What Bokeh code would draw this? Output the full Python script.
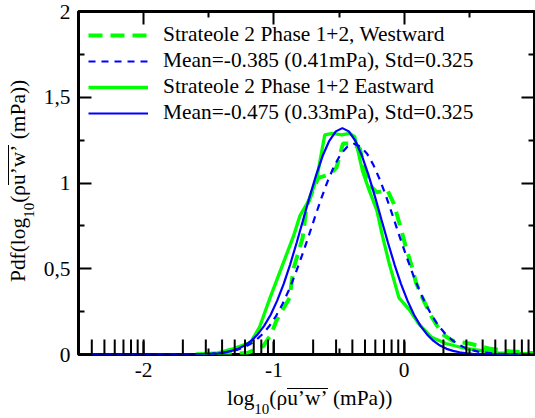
from bokeh.plotting import figure
from bokeh.models import (Legend, LegendItem, LinearAxis, FixedTicker, Range1d,
                          ColumnDataSource, Div)
from bokeh.layouts import row, column
from bokeh.embed import file_html
from bokeh.resources import INLINE
import numpy as np

# ---- data ----
west_x = [-1.6, -1.3, -1.2, -1.08, -1.02, -0.98, -0.88, -0.85, -0.78, -0.75, -0.71, -0.66,
          -0.57, -0.52, -0.47, -0.40, -0.34, -0.28, -0.21, -0.13, -0.08, -0.02, 0.015,
          0.06, 0.09, 0.14, 0.21, 0.29, 0.37, 0.5, 0.65, 0.78, 1.0]
west_y = [0.0, 0.003, 0.01, 0.05, 0.12, 0.20, 0.33, 0.50, 0.68, 0.86, 0.94, 1.03,
          1.05, 1.09, 1.23, 1.23, 1.20, 1.00, 0.945, 0.96, 0.88, 0.72, 0.62,
          0.51, 0.42, 0.33, 0.22, 0.12, 0.08, 0.064, 0.035, 0.02, 0.008]

east_x = [-1.6, -1.43, -1.31, -1.18, -1.11, -1.03, -0.93, -0.85, -0.80, -0.73, -0.67,
          -0.61, -0.55, -0.48, -0.42, -0.38, -0.32, -0.27, -0.21, -0.17, -0.115, -0.04,
          0.04, 0.11, 0.21, 0.32, 0.47, 0.72, 1.0]
east_y = [0.0, 0.01, 0.035, 0.07, 0.16, 0.33, 0.53, 0.69, 0.81, 0.90, 1.03,
          1.28, 1.29, 1.28, 1.29, 1.27, 1.07, 0.96, 0.84, 0.70, 0.53, 0.33,
          0.26, 0.18, 0.10, 0.064, 0.035, 0.01, 0.003]

fitw_x = [-2.5, -1.585, -1.485, -1.385, -1.335, -1.285, -1.235, -1.185, -1.135, -1.085,
          -1.035, -0.985, -0.935, -0.885, -0.835, -0.785, -0.735, -0.685, -0.635, -0.585,
          -0.535, -0.485, -0.435, -0.385,
          -0.335, -0.285, -0.235, -0.185, -0.135, -0.085, -0.035, 0.015, 0.065, 0.115,
          0.165, 0.215, 0.265, 0.315, 0.365, 0.415, 0.465, 0.515, 0.565, 0.615, 0.715,
          0.815, 1.0]
fitw_y = [0.0, 0.001, 0.004, 0.011, 0.017, 0.027, 0.040, 0.059, 0.086, 0.121,
          0.166, 0.223, 0.293, 0.376, 0.471, 0.576, 0.687, 0.802, 0.913, 1.016,
          1.103, 1.171, 1.213, 1.228,
          1.213, 1.171, 1.103, 1.016, 0.913, 0.802, 0.687, 0.576, 0.471, 0.376,
          0.293, 0.223, 0.166, 0.121, 0.086, 0.059, 0.040, 0.027, 0.017, 0.011, 0.004,
          0.001, 0.0]

fite_x = [-2.5, -1.575, -1.475, -1.425, -1.375, -1.325, -1.275, -1.225, -1.175, -1.125,
          -1.075, -1.025, -0.975, -0.925, -0.875, -0.825, -0.775, -0.725, -0.675, -0.625,
          -0.575, -0.525, -0.475,
          -0.425, -0.375, -0.325, -0.275, -0.225, -0.175, -0.125, -0.075, -0.025, 0.025,
          0.075, 0.125, 0.175, 0.225, 0.275, 0.325, 0.375, 0.425, 0.475, 0.525, 0.625, 1.0]
fite_y = [0.0, 0.001, 0.004, 0.007, 0.013, 0.021, 0.033, 0.052, 0.079, 0.117,
          0.167, 0.232, 0.314, 0.412, 0.526, 0.653, 0.787, 0.922, 1.049, 1.160,
          1.246, 1.301, 1.320,
          1.301, 1.246, 1.160, 1.049, 0.922, 0.787, 0.653, 0.526, 0.412, 0.314,
          0.232, 0.167, 0.117, 0.079, 0.052, 0.033, 0.021, 0.013, 0.007, 0.004, 0.001, 0.0]

rug_mpa = [0.004, 0.005, 0.006, 0.007, 0.008, 0.009, 0.01,
           0.02, 0.03, 0.04, 0.05, 0.06, 0.07, 0.08, 0.09, 0.1,
           0.2, 0.3, 0.4, 0.5, 0.6, 0.7, 0.8, 0.9, 1.0,
           2, 3, 4, 5, 6, 7, 8, 9, 10]

labels = ["Strateole 2 Phase 1+2, Westward",
          "Mean=-0.385 (0.41mPa), Std=0.325",
          "Strateole 2 Phase 1+2 Eastward",
          "Mean=-0.475 (0.33mPa), Std=0.325"]

x_major = [-2, -1, 0, 1]
x_minor = [-2.5, -1.5, -0.5, 0.5]
x_tick_text = {-2: "-2", -1: "-1", 0: "0", 1: ""}
y_major = [0, 0.5, 1, 1.5, 2]
y_minor = [0.25, 0.75, 1.25, 1.75]
y_tick_text = {0: "0", 0.5: "0,5", 1: "1", 1.5: "1,5", 2: "2"}

FONT = "Liberation Serif"
GREEN = "#00ff00"
BLUE = "#0000ff"
FS = 21.4     # main font size (px)
FS_SUB = 15   # subscript font size (px)

# ---- layout (pixels) ----
YT_W = 40                     # width of the y-title strip
ML, MR, MT, MB = 37, 1, 11, 30
FW, FH = 457, 343
PW, PH = ML + FW + MR, MT + FH + MB
XT_H = 418 - PH

p = figure(width=PW, height=PH,
           x_range=Range1d(-2.5, 1.0), y_range=Range1d(0, 2),
           output_backend="svg", toolbar_location=None,
           min_border_left=ML, min_border_right=MR, min_border_top=MT,
           min_border_bottom=MB, x_axis_location=None, y_axis_location=None,
           margin=0)
p.xgrid.visible = False
p.ygrid.visible = False
p.outline_line_color = "black"
p.outline_line_width = 3
p.background_fill_color = "white"


def style_axis(ax, show):
    ax.axis_line_color = None
    ax.major_tick_in = 13
    ax.major_tick_out = 0
    ax.minor_tick_in = 6
    ax.minor_tick_out = 0
    ax.major_tick_line_width = 2
    ax.minor_tick_line_width = 2
    ax.major_tick_line_color = "black"
    ax.minor_tick_line_color = "black"
    ax.major_label_text_font = FONT
    ax.major_label_text_font_size = f"{FS}px" if show else "0px"
    ax.major_label_text_color = "black"
    ax.major_label_standoff = 8 if show else 0


xt = FixedTicker(ticks=x_major, minor_ticks=x_minor)
yt = FixedTicker(ticks=y_major, minor_ticks=y_minor)

xb = LinearAxis(ticker=xt)
style_axis(xb, True)
xb.major_label_overrides = x_tick_text
p.add_layout(xb, "below")

xa = LinearAxis(ticker=xt)
style_axis(xa, False)
xa.major_label_overrides = {k: "" for k in x_major}
p.add_layout(xa, "above")

yl = LinearAxis(ticker=yt)
style_axis(yl, True)
yl.major_label_overrides = y_tick_text
p.add_layout(yl, "left")

yr = LinearAxis(ticker=yt)
style_axis(yr, False)
yr.major_label_overrides = {k: "" for k in y_major}
p.add_layout(yr, "right")

r_gd = p.line(west_x, west_y, line_color=GREEN, line_width=4, line_dash="14 8")
r_gs = p.line(east_x, east_y, line_color=GREEN, line_width=3.3)
r_bd = p.line(fitw_x, fitw_y, line_color=BLUE, line_width=2.2, line_dash="7 6")
r_bs = p.line(fite_x, fite_y, line_color=BLUE, line_width=2.2)

rug_src = ColumnDataSource(dict(x=np.log10(np.array(rug_mpa, dtype=float))))
p.segment(x0="x", y0=0, x1="x", y1=0.088, source=rug_src,
          line_color="black", line_width=2)

legend = Legend(items=[LegendItem(label=labels[0], renderers=[r_gd]),
                       LegendItem(label=labels[1], renderers=[r_bd]),
                       LegendItem(label=labels[2], renderers=[r_gs]),
                       LegendItem(label=labels[3], renderers=[r_bs])],
                location=(10, 229))
legend.label_text_font = FONT
legend.label_text_font_size = f"{FS}px"
legend.label_text_color = "black"
legend.glyph_width = 60
legend.glyph_height = 24
legend.label_height = 24
legend.label_standoff = 15
legend.spacing = 1
legend.padding = 0
legend.margin = 0
legend.border_line_color = None
legend.background_fill_alpha = 0
p.add_layout(legend, "center")

# ---- axis titles as HTML text (subscript + overline) ----
title_core = ("log<span style=\"font-size:%dpx; position:relative; top:9px;\">10</span>"
              "(\u03c1<span style=\"display:inline-block; line-height:18px; "
              "border-top:1.3px solid black;\">u\u2019w\u2019</span> (mPa))"
              % FS_SUB)
base_style = ("font-family:'Liberation Serif'; font-size:%spx; line-height:21px; "
              "color:black; white-space:nowrap; margin:0;" % FS)

x_html = ("<div style=\"%s padding-left:%dpx; padding-top:4px;\">%s</div>"
          % (base_style, 227 - YT_W, title_core))
x_title = Div(text=x_html, width=PW, height=XT_H, margin=0)

y_html = ("<div style=\"%s box-sizing:border-box; width:%dpx; height:%dpx; "
          "padding-left:%dpx; padding-top:8px; transform-origin:0 0; "
          "transform:translate(0px,%dpx) rotate(-90deg);\">Pdf(%s</div>"
          % (base_style, PH, YT_W, PH - 282, PH, title_core))
y_title = Div(text=y_html, width=YT_W, height=PH, margin=0)

layout = row(y_title, column(p, x_title, spacing=0, margin=0), spacing=0, margin=0)

open("out.html", "w").write(file_html(layout, INLINE))
